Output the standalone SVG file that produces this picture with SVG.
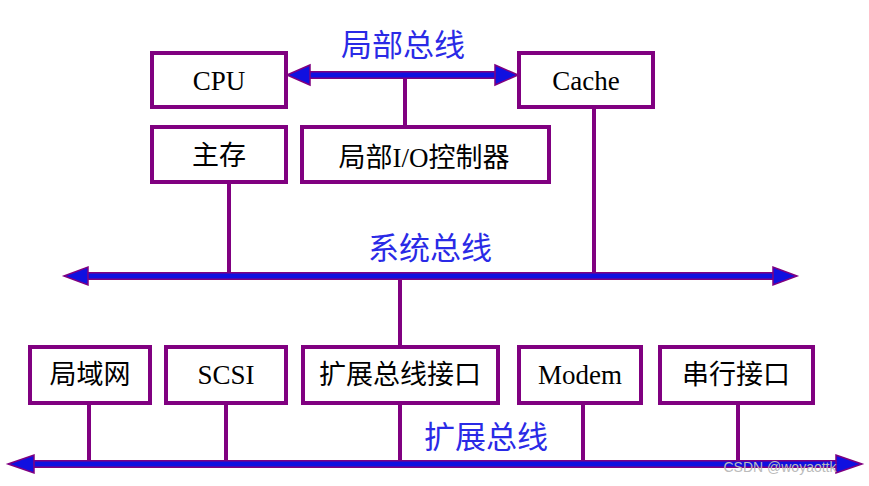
<svg xmlns="http://www.w3.org/2000/svg" width="869" height="486" viewBox="0 0 869 486">
<defs>
<style>
.box{fill:#fff;stroke:#800080;stroke-width:4}
.t{font-family:"Liberation Serif","Noto Sans CJK SC",serif;font-size:27px;fill:#000;text-anchor:middle}
.bl{font-family:"Noto Sans CJK SC",sans-serif;font-size:31px;fill:#2a2ae6;text-anchor:middle}
.v{stroke:#800080;stroke-width:4;fill:none}
.bus{stroke:#800080;stroke-width:8;fill:none}
.busin{stroke:#1010e0;stroke-width:5;fill:none}
.ah{fill:#1010e0;stroke:#800080;stroke-width:1.5}
</style>
</defs>
<g id="connectors">
<line class="v" x1="405" y1="75" x2="405" y2="127"/>
<line class="v" x1="229" y1="182" x2="229" y2="276"/>
<line class="v" x1="594" y1="107" x2="594" y2="276"/>
<line class="v" x1="400" y1="276" x2="400" y2="347"/>
<line class="v" x1="89" y1="403" x2="89" y2="464"/>
<line class="v" x1="226" y1="403" x2="226" y2="464"/>
<line class="v" x1="400" y1="403" x2="400" y2="464"/>
<line class="v" x1="583" y1="403" x2="583" y2="464"/>
<line class="v" x1="738" y1="403" x2="738" y2="464"/>
<g id="local-bus">
<line class="bus" x1="305" y1="75" x2="500" y2="75"/>
<line class="busin" x1="305" y1="75" x2="500" y2="75"/>
<polygon class="ah" points="287,75 310,65 310,85"/>
<polygon class="ah" points="518,75 495,65 495,85"/>
</g>
<g id="system-bus">
<line class="bus" x1="85" y1="276" x2="775" y2="276"/>
<line class="busin" x1="85" y1="276" x2="775" y2="276"/>
<polygon class="ah" points="64,276 88,267 88,285"/>
<polygon class="ah" points="797,276 773,267 773,285"/>
</g>
<g id="expansion-bus">
<line class="bus" x1="30" y1="464" x2="840" y2="464"/>
<line class="busin" x1="30" y1="464" x2="840" y2="464"/>
<polygon class="ah" points="8,464 34,455 34,473"/>
<polygon class="ah" points="862,464 836,455 836,473"/>
</g>
</g>
<text class="bl" x="403" y="56">局部总线</text>
<text class="bl" x="430" y="259">系统总线</text>
<text class="bl" x="486" y="448">扩展总线</text>
<g id="cpu"><rect class="box" x="152" y="53" width="134" height="54"/><text class="t" x="219" y="90">CPU</text></g>
<g id="cache"><rect class="box" x="519" y="53" width="134" height="54"/><text class="t" x="586" y="90">Cache</text></g>
<g id="mem"><rect class="box" x="152" y="127" width="134" height="55"/><text class="t" x="219" y="165">主存</text></g>
<g id="lio"><rect class="box" x="302" y="127" width="247" height="55"/><text class="t" x="424" y="167">局部I/O控制器</text></g>
<g id="lan"><rect class="box" x="30" y="347" width="120" height="56"/><text class="t" x="90" y="384">局域网</text></g>
<g id="scsi"><rect class="box" x="166" y="347" width="120" height="56"/><text class="t" x="226" y="384">SCSI</text></g>
<g id="ebi"><rect class="box" x="303" y="347" width="195" height="56"/><text class="t" x="400" y="384">扩展总线接口</text></g>
<g id="modem"><rect class="box" x="519" y="347" width="122" height="56"/><text class="t" x="580" y="384">Modem</text></g>
<g id="serial"><rect class="box" x="660" y="347" width="153" height="56"/><text class="t" x="736" y="384">串行接口</text></g>
<text x="780" y="472" font-family="Liberation Sans,sans-serif" font-size="14" fill="#bbbbbb" text-anchor="middle">CSDN @woyaottk</text>
</svg>
